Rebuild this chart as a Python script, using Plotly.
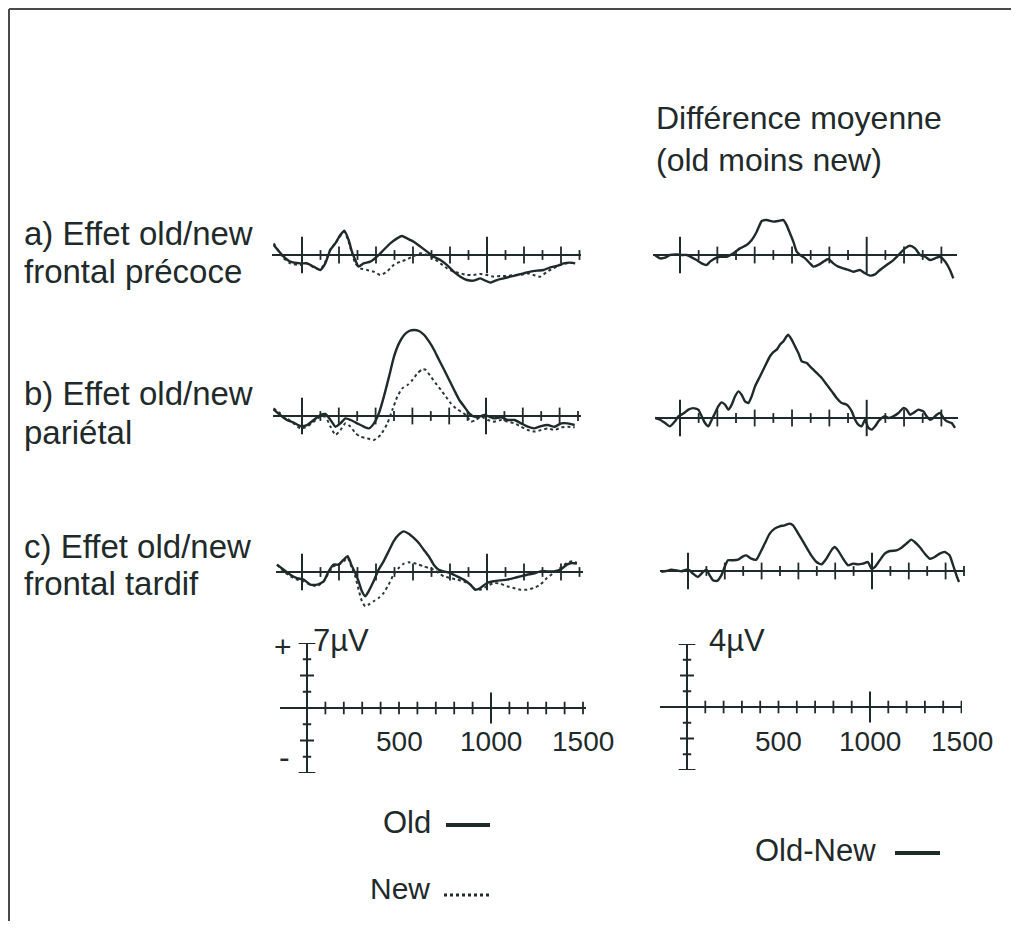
import plotly.graph_objects as go

# the page body adds an 8 px margin, so the figure is drawn 8 px in from the window edge
OFF = 8
W, H = 1019 - OFF, 929 - 2 * OFF

# ---------------- data (ms, µV) ----------------
A_OLD_T = [-153,-99,-63,-9,27,63,99,126,153,180,207,229,252,270,288,306,333,369,405,441,477,514,541,568,604,640,676,712,748,784,820,856,892,928,964,991,1018,1054,1090,1126,1162,1198,1234,1270,1306,1342,1378,1414,1450,1477]
A_OLD_V = [1.08,-0.18,-0.72,-0.90,-0.90,-1.25,-1.61,-0.90,0.54,1.25,2.15,2.62,1.61,0.36,-0.54,-1.25,-0.90,-0.72,-0.18,0.54,1.25,1.79,2.04,1.79,1.43,0.90,0.36,-0.18,-0.54,-1.08,-1.79,-2.33,-2.69,-2.76,-2.51,-2.76,-2.97,-2.69,-2.51,-2.33,-2.15,-1.97,-1.79,-1.68,-1.61,-1.33,-1.18,-0.90,-0.82,-0.90]
A_NEW_T = [-153,-99,-63,-9,27,63,99,126,153,180,207,229,252,270,288,315,351,387,423,459,495,532,568,604,640,676,712,748,784,820,856,892,928,964,1000,1036,1072,1108,1144,1180,1216,1252,1288,1324,1360,1396,1432,1477]
A_NEW_V = [1.25,-0.36,-0.90,-1.08,-0.90,-1.33,-1.54,-0.72,0.61,1.25,2.04,2.51,1.43,0.18,-0.90,-1.43,-1.61,-1.79,-2.15,-1.79,-1.08,-0.72,-0.47,-0.11,0.18,0.00,-0.36,-0.90,-1.43,-1.79,-1.97,-2.15,-2.15,-2.04,-2.15,-2.33,-2.26,-2.26,-2.15,-2.15,-1.97,-2.15,-2.33,-1.79,-1.43,-1.08,-0.90,-0.82]
A_DIFF_T = [-134,-107,-80,-54,-18,9,36,89,116,143,161,188,214,250,286,321,357,384,411,438,464,500,527,554,571,589,607,625,643,670,696,714,741,768,795,821,848,875,902,929,964,991,1018,1045,1071,1107,1143,1179,1205,1232,1259,1286,1313,1339,1366,1393,1420,1446,1464]
A_DIFF_V = [0,-0.21,-0.17,0,0.04,0,0,-0.32,-0.53,-0.63,-0.42,-0.21,-0.11,-0.11,0.11,0.42,0.63,0.95,1.48,2.16,2.22,2.12,2.16,2.22,1.90,1.38,0.85,0.21,0,-0.21,-0.53,-0.74,-0.63,-0.42,-0.25,-0.53,-0.74,-0.85,-0.95,-1.06,-0.95,-1.16,-1.31,-1.23,-0.95,-0.63,-0.32,0.11,0.42,0.59,0.42,0,-0.11,-0.32,-0.21,-0.11,-0.42,-0.95,-1.48]

B_OLD_T = [-155,-118,-82,-45,-9,27,64,100,127,155,182,209,236,264,300,336,364,391,418,445,473,500,527,555,582,609,636,664,691,718,745,773,800,827,855,882,909,936,964,991,1018,1045,1082,1118,1155,1191,1227,1264,1300,1336,1373,1409,1445,1482]
B_OLD_V = [0.72,0.11,-0.43,-0.72,-1.08,-0.97,-0.43,0.11,0.22,-0.43,-1.15,-0.79,-0.25,-0.43,-0.79,-1.15,-1.33,-0.79,0.29,2.08,4.23,6.38,7.81,8.71,9.14,9.25,9.14,8.71,7.99,7.10,6.02,4.95,3.87,2.80,1.72,1.00,0.29,-0.07,-0.07,0.11,-0.07,-0.25,-0.14,-0.43,-0.43,-0.79,-1.15,-1.33,-1.08,-0.97,-1.15,-0.79,-0.79,-0.97]
B_NEW_T = [-155,-118,-82,-45,-9,27,64,100,127,155,182,209,236,264,291,318,355,391,427,464,491,518,545,573,600,627,655,673,700,727,755,782,809,836,864,891,918,945,973,1009,1045,1082,1118,1155,1191,1227,1264,1300,1336,1373,1409,1445,1482]
B_NEW_V = [0.82,0.29,-0.25,-0.79,-1.33,-1.15,-0.61,-0.07,-0.07,-1.15,-2.04,-1.51,-0.79,-1.15,-1.86,-2.22,-2.40,-2.58,-2.04,-0.79,0.65,2.08,2.97,3.33,3.87,4.59,5.02,4.95,4.23,3.51,2.80,2.08,1.36,0.82,0.47,0.11,-0.61,-0.43,-0.07,-0.43,-0.61,-0.43,-0.61,-0.79,-1.15,-1.51,-1.68,-1.51,-1.33,-1.51,-1.22,-1.15,-1.22]
B_DIFF_T = [-134,-107,-80,-54,-27,-9,18,45,71,98,116,134,152,170,188,205,223,241,259,277,295,313,330,348,366,384,402,429,455,482,500,518,536,554,571,580,598,616,634,652,679,696,714,732,759,786,813,839,866,893,920,938,955,973,991,1009,1027,1045,1063,1080,1098,1116,1143,1170,1196,1214,1232,1250,1277,1304,1321,1339,1357,1375,1393,1411,1429,1455,1473]
B_DIFF_V = [0,-0.11,-0.32,-0.53,-0.21,0.11,0.28,0.53,0.63,0.53,0.11,-0.32,-0.53,-0.11,0.32,0.74,0.99,0.85,0.53,0.85,1.38,1.69,1.48,1.06,0.95,1.38,2.01,2.65,3.28,3.92,4.19,4.34,4.66,4.87,5.19,5.29,4.97,4.55,4.13,3.60,3.49,3.28,3.07,2.86,2.54,2.12,1.69,1.27,0.95,0.85,0.42,-0.11,-0.42,-0.53,-0.11,-0.63,-0.74,-0.53,-0.21,0,0.11,0,0.11,0.32,0.63,0.53,0.21,0.32,0.53,0.42,0.11,-0.11,0,0.21,0.32,0,-0.21,-0.32,-0.63]

C_T = [-135,-99,-63,-27,9,45,81,117,144,171,198,225,247,270,288,306,324,342,360,387,414,441,468,495,523,550,577,604,631,658,685,712,739,766,802,838,874,910,937,964,1000,1036,1072,1108,1144,1180,1216,1252,1288,1324,1360,1396,1432,1459,1486]
C_OLD_V = [0.79,0.25,-0.29,-0.65,-0.82,-1.36,-1.36,-1.00,0.07,0.79,0.79,1.33,1.69,0.61,-0.11,-1.00,-2.08,-2.62,-2.08,-1.00,0.25,1.15,2.22,3.30,4.01,4.37,4.12,3.66,3.12,2.40,1.69,0.79,0.25,0.07,-0.11,-0.47,-0.82,-1.36,-1.90,-1.72,-1.18,-1.00,-0.90,-0.82,-0.65,-0.47,-0.29,-0.18,0.07,0.07,0.07,0.25,0.79,0.97,0.90]
C_NEW_V = [0.79,0.07,-0.47,-0.82,-1.00,-1.36,-1.54,-1.00,-0.11,0.61,0.79,1.15,1.51,0.43,-0.47,-1.90,-3.15,-3.69,-3.51,-3.15,-2.80,-2.26,-1.36,-0.29,0.43,0.90,1.04,0.97,0.79,0.61,0.43,0.25,-0.11,-0.47,-0.65,-0.82,-1.00,-1.36,-1.90,-1.90,-1.54,-1.18,-1.25,-1.54,-1.72,-1.90,-1.90,-1.72,-1.36,-0.65,-0.11,0.43,0.97,1.15,0.97]
C_DIFF_T = [-145,-118,-91,-63,-36,-9,9,27,54,82,100,118,136,158,181,199,217,245,272,299,317,344,371,390,417,444,471,498,525,553,571,589,616,643,670,698,725,752,779,797,815,843,870,897,924,951,978,997,1015,1042,1069,1096,1133,1160,1187,1214,1232,1259,1287,1314,1341,1368,1395,1422,1441,1459,1473]
C_DIFF_V = [-0.06,0,0.08,0.04,-0.02,0.08,0.04,-0.17,-0.38,-0.06,0.08,-0.28,-0.59,-0.63,-0.28,0.25,0.68,0.68,0.72,0.93,0.99,0.78,0.72,1.10,1.74,2.37,2.69,2.84,2.90,3.01,2.90,2.58,2.05,1.52,0.99,0.57,0.42,0.78,1.31,1.52,1.31,0.78,0.36,0.47,0.42,0.47,0.57,0.15,0.25,0.68,1.10,1.27,1.31,1.48,1.74,1.99,1.84,1.52,1.10,0.78,0.89,1.10,1.21,0.99,0.36,-0.28,-0.70]

# tick marks (ms) and calibration ticks (µV)
MAJOR_MS = [0, 1000]
EVEN_MS = [200, 400, 600, 800, 1200, 1400]
ODD_MS = [100, 300, 500, 700, 900, 1100, 1300, 1500]
CAL_X_MAJOR = [1000]
CAL_X_MINOR = [100, 200, 300, 400, 500, 600, 700, 800, 900, 1100, 1200, 1300, 1400, 1500]
CAL_L_CAPS = [-7, 7]
CAL_L_MID = [-3.5, 3.5]
CAL_L_SMALL = [-5.25, -1.75, 1.75, 5.25]
CAL_R_CAPS = [-4, 4]
CAL_R_MID = [-2, 2]
CAL_R_SMALL = [-3, -1, 1, 3]
TICK_LABELS = [500, 1000, 1500]

INK = "#1f2a2b"
FONT = "Liberation Sans, Arial, sans-serif"


def px(x):
    return (x - OFF) / W


def py(y):
    return 1 - (y - OFF) / H


fig = go.Figure()
layout = dict(width=W, height=H, margin=dict(l=0, r=0, t=0, b=0),
              paper_bgcolor="white", plot_bgcolor="rgba(0,0,0,0)", showlegend=False)

# panel geometry: (x0px, x1px, y0px, y1px, origin_x_px, px_per_ms, baseline_px, px_per_uV)
panels = {
    1: (272, 581, 200, 310, 302, 0.185, 255, 9.3),
    2: (273, 581, 315, 450, 302, 0.184, 416, 9.3),
    3: (276, 583, 505, 620, 302, 0.185, 572, 9.3),
    4: (653, 957, 195, 300, 680, 0.1867, 255, 15.75),
    5: (655, 958, 315, 450, 680, 0.1867, 418, 15.75),
    6: (660, 965, 505, 615, 688, 0.184, 571, 15.75),
    7: (280, 586, 643, 773, 307, 0.184, 708, 65 / 7),
    8: (660, 962, 644, 770, 687, 0.183, 707, 15.75),
}

for k, (x0, x1, y0, y1, ox, sx, by, sy) in panels.items():
    sfx = "" if k == 1 else str(k)
    layout["xaxis" + sfx] = dict(
        domain=[px(x0), px(x1)], range=[(x0 - ox) / sx, (x1 - ox) / sx],
        anchor="y" + sfx if sfx else "y",
        showgrid=False, showticklabels=False, ticks="", showline=False,
        zeroline=(k >= 7), zerolinecolor=INK, zerolinewidth=1.8, fixedrange=True)
    layout["yaxis" + sfx] = dict(
        domain=[py(y1), py(y0)], range=[(by - y1) / sy, (by - y0) / sy],
        anchor="x" + sfx if sfx else "x",
        showgrid=False, showticklabels=False, ticks="", showline=False,
        zeroline=True, zerolinecolor=INK, zerolinewidth=1.8, fixedrange=True)


def ax(k):
    return ("x", "y") if k == 1 else ("x%d" % k, "y%d" % k)


def line(k, t, v, dash="solid", width=2.4, color=INK):
    xa, ya = ax(k)
    fig.add_trace(go.Scatter(x=t, y=v, xaxis=xa, yaxis=ya, mode="lines",
                             line=dict(color=color, width=width, dash=dash, shape="spline", smoothing=0.5),
                             hoverinfo="skip"))


def ticks(k, xs, ys, size, symbol="line-ns", width=1.8):
    xa, ya = ax(k)
    fig.add_trace(go.Scatter(x=xs, y=ys, xaxis=xa, yaxis=ya, mode="markers",
                             marker=dict(symbol=symbol, size=size, color=INK,
                                         line=dict(color=INK, width=width)),
                             hoverinfo="skip"))


# data panels: tick marks on the baseline
for k in range(1, 7):
    ticks(k, MAJOR_MS, [0] * len(MAJOR_MS), 26, width=2)
    ticks(k, EVEN_MS, [0] * len(EVEN_MS), 12)
    ticks(k, ODD_MS, [0] * len(ODD_MS), 7)

# traces
NEW_STYLE = dict(dash="dot", width=2.0, color="#2a3637")
line(1, A_NEW_T, A_NEW_V, **NEW_STYLE)
line(1, A_OLD_T, A_OLD_V)
line(4, A_DIFF_T, A_DIFF_V)
line(2, B_NEW_T, B_NEW_V, **NEW_STYLE)
line(2, B_OLD_T, B_OLD_V)
line(5, B_DIFF_T, B_DIFF_V)
line(3, C_T, C_NEW_V, **NEW_STYLE)
line(3, C_T, C_OLD_V)
line(6, C_DIFF_T, C_DIFF_V)

# calibration axes
for k, caps, mids, smalls in ((7, CAL_L_CAPS, CAL_L_MID, CAL_L_SMALL),
                              (8, CAL_R_CAPS, CAL_R_MID, CAL_R_SMALL)):
    ticks(k, CAL_X_MAJOR, [0] * len(CAL_X_MAJOR), 22, width=2)
    ticks(k, CAL_X_MINOR, [0] * len(CAL_X_MINOR), 9)
    ticks(k, [0] * len(caps), caps, 12, symbol="line-ew", width=2)
    ticks(k, [0] * len(mids), mids, 10, symbol="line-ew", width=2)
    ticks(k, [0] * len(smalls), smalls, 6, symbol="line-ew", width=2)

annotations = []


def text(s, xpx, ypx, size=33, anchor="left"):
    annotations.append(dict(text=s, x=px(xpx), y=py(ypx), xref="paper", yref="paper",
                            xanchor=anchor, yanchor="middle", showarrow=False,
                            font=dict(family=FONT, size=size, color=INK)))


text("Différence moyenne", 654, 118, size=32)
text("(old moins new)", 654, 160, size=32)
text("a) Effet old/new", 22, 233)
text("frontal précoce", 22, 271)
text("b) Effet old/new", 22, 393)
text("pariétal", 22, 432)
text("c) Effet old/new", 22, 546)
text("frontal tardif", 22, 583)
text("+", 283, 646, size=30, anchor="center")
text("-", 284, 757, size=32, anchor="center")
text("7µV", 311, 640, size=31)
text("4µV", 707, 640, size=31)
text("Old", 381, 822, size=31)
text("New", 368, 888, size=30)
text("Old-New", 753, 850, size=31)

# tick labels on calibration axes (placed on the data scale)
for k in (7, 8):
    for v in TICK_LABELS:
        annotations.append(dict(text=str(v), x=v, y=py(741), xref="x%d" % k, yref="paper",
                                xanchor="center", yanchor="middle", showarrow=False,
                                font=dict(family=FONT, size=28, color=INK)))

layout["annotations"] = annotations

shapes = [
    # frame
    dict(type="line", xref="paper", yref="paper", x0=px(9), x1=1, y0=py(9), y1=py(9),
         line=dict(color="#4a4a4a", width=2)),
    dict(type="line", xref="paper", yref="paper", x0=px(9), x1=px(9), y0=0, y1=py(9),
         line=dict(color="#4a4a4a", width=2)),
    # legend samples
    dict(type="line", xref="paper", yref="paper", x0=px(446), x1=px(490), y0=py(825), y1=py(825),
         line=dict(color=INK, width=4)),
    dict(type="line", xref="paper", yref="paper", x0=px(444), x1=px(490), y0=py(895), y1=py(895),
         line=dict(color=INK, width=3, dash="dot")),
    dict(type="line", xref="paper", yref="paper", x0=px(895), x1=px(940), y0=py(853), y1=py(853),
         line=dict(color=INK, width=4)),
]
layout["shapes"] = shapes

fig.update_layout(**layout)
fig.write_html("out.html")
